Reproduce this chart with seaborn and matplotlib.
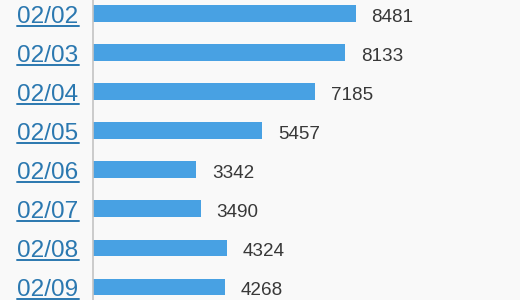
import matplotlib
matplotlib.use("Agg")
import matplotlib.pyplot as plt
import seaborn as sns
import pandas as pd

dates = ["02/02", "02/03", "02/04", "02/05", "02/06", "02/07", "02/08", "02/09"]
counts = [8481, 8133, 7185, 5457, 3342, 3490, 4324, 4268]

sns.set_theme(style="white")
plt.rcParams['font.family'] = ['Liberation Sans', 'DejaVu Sans']

BG = "#f9f9f9"
BAR = "#48a1e3"
LINK = "#2b78b0"
VAL = "#383838"

W, H = 520, 300
fig = plt.figure(figsize=(W / 100, H / 100), dpi=100, facecolor=BG)
left_px = 92.5
ax = fig.add_axes([left_px / W, 0, 1 - left_px / W, 1])
ax.set_facecolor(BG)

df = pd.DataFrame({"date": dates, "count": counts})
sns.barplot(data=df, y="date", x="count", orient="h", color=BAR, width=0.43,
            saturation=1, linewidth=0, ax=ax)

px_per_unit = (356 - 93) / 8481
ax.set_xlim(0, (W - left_px) / px_per_unit)
pitch = 39.0
ax.set_ylim(7 + (H - 287) / pitch, -13.5 / pitch)

for s in ["top", "right", "bottom"]:
    ax.spines[s].set_visible(False)
ax.spines["left"].set_color("#c4c4c4")
ax.spines["left"].set_linewidth(1.2)
ax.set_xticks([])
ax.set_xlabel("")
ax.set_ylabel("")
ax.tick_params(axis="y", length=0, labelleft=False)

for i, v in enumerate(counts):
    ax.annotate(str(v), xy=(v, i), xytext=(16, -8), textcoords="offset pixels",
                ha="left", va="baseline", fontsize=13.6, color=VAL)

label_texts = []
for i, d in enumerate(dates):
    t = ax.annotate(d, xy=(0, i), xycoords=("axes fraction", "data"),
                    xytext=(-14, -9), textcoords="offset pixels",
                    ha="right", va="baseline", fontsize=17.6, color=LINK,
                    annotation_clip=False)
    label_texts.append(t)

# underline the date labels
fig.canvas.draw()
renderer = fig.canvas.get_renderer()
for t in label_texts:
    bb = t.get_window_extent(renderer)
    y = bb.y0 + 2.0
    fig.add_artist(plt.Line2D([bb.x0 / W, bb.x1 / W], [y / H, y / H],
                              color=LINK, linewidth=1.4, transform=fig.transFigure))

fig.savefig("out.png", dpi=100, facecolor=BG)
